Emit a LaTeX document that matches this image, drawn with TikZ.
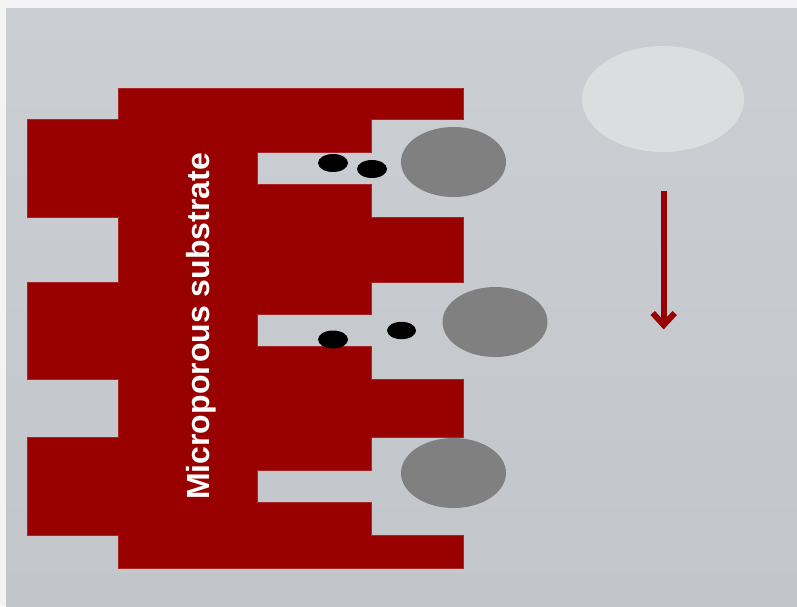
\documentclass[tikz,border=0pt]{standalone}
\usepackage{fontspec}
\setmainfont{Liberation Sans}
\usetikzlibrary{calc}

\definecolor{pagegrey}{HTML}{F3F3F3}
\definecolor{paneltop}{HTML}{CBCED2}
\definecolor{panelbottom}{HTML}{C2C5C9}
\definecolor{substrate}{HTML}{990000}
\definecolor{particle}{HTML}{808080}
\definecolor{droplet}{HTML}{DCDDDF}

\tikzset{
  substratefill/.style={fill=substrate, draw=substrate!85!white, line width=0.6pt},
  bigparticle/.style={fill=particle},
  smallparticle/.style={fill=black},
  incoming/.style={fill=droplet},
  flowline/.style={draw=substrate, line width=6pt, line join=miter, line cap=butt},
  labeltext/.style={text=white, font=\bfseries\fontsize{32}{38}\selectfont, inner sep=0pt}
}

\begin{document}
\begin{tikzpicture}[x=1pt, y=-1pt]
  \useasboundingbox (0,0) rectangle (797,606);

  % page and shaded panel
  \fill[pagegrey] (0,0) rectangle (797,606);
  \shade[top color=paneltop, bottom color=panelbottom] (6,8) rectangle (797,606);

  % porous substrate: spine with left ribs, right teeth and dead-end pores
  \path[substratefill]
    (118,88) -- (463,88) -- (463,119) -- (371,119) -- (371,152) -- (257,152)
    -- (257,184) -- (371,184) -- (371,217) -- (463,217) -- (463,282)
    -- (371,282) -- (371,314) -- (257,314) -- (257,346) -- (371,346)
    -- (371,379) -- (463,379) -- (463,437.5) -- (371,437.5) -- (371,470)
    -- (257,470) -- (257,502) -- (371,502) -- (371,535) -- (463,535)
    -- (463,568) -- (118,568) -- (118,535) -- (27,535) -- (27,437.5)
    -- (118,437.5) -- (118,379) -- (27,379) -- (27,282) -- (118,282)
    -- (118,217) -- (27,217) -- (27,119) -- (118,119) -- cycle;

  \node[labeltext, rotate=90, anchor=base] (label) at (209,326.5) {Microporous substrate};

  % large particles sitting at the pore mouths
  \fill[bigparticle] (453.5,162) ellipse [x radius=52.5, y radius=35];
  \fill[bigparticle] (495,322) ellipse [x radius=52.5, y radius=35];
  \fill[bigparticle] (453.5,473) ellipse [x radius=52.5, y radius=35];

  % small particles entering the pores
  \fill[smallparticle] (333,163) ellipse [x radius=15, y radius=9];
  \fill[smallparticle] (372,169) ellipse [x radius=15, y radius=9];
  \fill[smallparticle] (333,339.5) ellipse [x radius=15, y radius=9];
  \fill[smallparticle] (401.5,330.5) ellipse [x radius=14.5, y radius=8.7];

  % incoming particle and direction of flow
  \fill[incoming] (663,99) ellipse [x radius=81, y radius=53];

  \coordinate (flowstart) at (663.7,191);
  \coordinate (flowtip) at (663.7,325);
  \draw[flowline] (flowstart) -- (flowtip);
  \draw[flowline] ($(flowtip)+(-11,-12)$) -- (flowtip) -- ($(flowtip)+(11,-12)$);
\end{tikzpicture}
\end{document}
